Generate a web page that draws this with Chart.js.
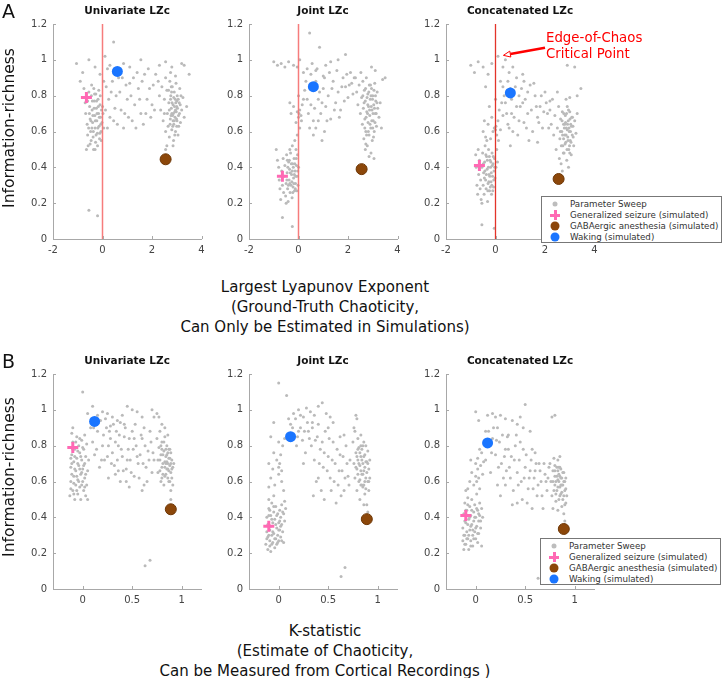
<!DOCTYPE html>
<html lang="en">
<head>
  <meta charset="UTF-8">
  <title>Information-richness vs chaoticity</title>
  <script src="https://cdn.jsdelivr.net/npm/chart.js"></script>
  <style>
    body { margin: 0; background: #fff; font-family: 'DejaVu Sans', sans-serif; }
    #fig { position: relative; width: 722px; height: 678px; overflow: hidden; }
    #fig canvas { position: absolute; }
    .txt { position: absolute; white-space: nowrap; color: #111; line-height: 1; }
    .letter { font-size: 19px; left: 2px; }
    .ptitle { font-size: 10.5px; font-weight: bold; transform: translateX(-50%); }
    .ylab { font-size: 15.5px; transform: translate(-50%, -50%) rotate(-90deg); }
    .xlab { font-size: 15px; line-height: 20px; text-align: center; transform: translateX(-50%); }
    .note { font-size: 13.3px; line-height: 16px; color: #ff0000; }
    .legend { position: absolute; width: 179px; height: 45px; border: 1px solid #777; background: #fff; }
    .legend .row { position: absolute; left: 0; height: 11px; font-size: 8.7px; line-height: 11px; color: #333; }
    .legend .row span.t { position: absolute; left: 28px; top: 0; white-space: nowrap; }
    .sym { position: absolute; left: 13px; top: 5.5px; transform: translate(-50%, -50%); }
    .dot { width: 5px; height: 5px; border-radius: 50%; background: #bdbdbd; }
    .ball { width: 9px; height: 9px; border-radius: 50%; }
    .plus { width: 10px; height: 10px; }
    .plus::before, .plus::after { content: ''; position: absolute; background: #ff69b4; }
    .plus::before { left: 3.5px; top: 0; width: 3px; height: 10px; }
    .plus::after { left: 0; top: 3.5px; width: 10px; height: 3px; }
  </style>
</head>
<body>
<div id="fig">
  <canvas id="a1" width="197" height="251" style="left:13px;top:12px"></canvas>
  <canvas id="a2" width="197" height="251" style="left:209px;top:12px"></canvas>
  <canvas id="a3" width="197" height="251" style="left:406px;top:12px"></canvas>
  <canvas id="b1" width="197" height="251" style="left:13px;top:362px"></canvas>
  <canvas id="b2" width="197" height="251" style="left:209px;top:362px"></canvas>
  <canvas id="b3" width="197" height="251" style="left:406px;top:362px"></canvas>

  <div class="txt letter" style="top:2px">A</div>
  <div class="txt letter" style="top:352px">B</div>

  <div class="txt ptitle" style="left:127px;top:5px">Univariate LZc</div>
  <div class="txt ptitle" style="left:323px;top:5px">Joint LZc</div>
  <div class="txt ptitle" style="left:520px;top:5px">Concatenated LZc</div>
  <div class="txt ptitle" style="left:127px;top:355px">Univariate LZc</div>
  <div class="txt ptitle" style="left:323px;top:355px">Joint LZc</div>
  <div class="txt ptitle" style="left:520px;top:355px">Concatenated LZc</div>

  <div class="txt ylab" style="left:10px;top:128px">Information-richness</div>
  <div class="txt ylab" style="left:10px;top:477px">Information-richness</div>

  <div class="txt xlab" style="left:325px;top:277px">Largest Lyapunov Exponent<br>(Ground-Truth Chaoticity,<br>Can Only be Estimated in Simulations)</div>
  <div class="txt xlab" style="left:325px;top:621px">K-statistic<br>(Estimate of Chaoticity,<br>Can be Measured from Cortical Recordings )</div>

  <div class="txt note" style="left:546px;top:30px">Edge-of-Chaos<br>Critical Point</div>

  <div class="legend" id="legA" style="left:541px;top:196px"></div>
  <div class="legend" id="legB" style="left:540px;top:538px"></div>
</div>

<script>
  // tick labels
  const yTicks = [0, 0.2, 0.4, 0.6, 0.8, 1, 1.2];
  const lyapTicks = [-2, 0, 2, 4];
  const kTicks = [0, 0.5, 1];

  // simulated states: seizure, anesthesia, waking
  const stateNames = ['Generalized seizure (simulated)', 'GABAergic anesthesia (simulated)', 'Waking (simulated)'];
  const stateLyap = [-0.65, 2.55, 0.6];
  const stateK = [-0.1, 0.89, 0.12];
  const stateUni = [0.79, 0.445, 0.935];
  const stateJoint = [0.35, 0.39, 0.85];
  const stateConcat = [0.41, 0.335, 0.815];

  // parameter sweep: [x, y]
  const uniLyap = [
    [-0.75,0.84],[-0.7,0.76],[-0.68,0.7],[-0.62,0.64],[-0.6,0.58],[-0.58,0.52],[-0.55,0.82],[-0.52,0.74],[-0.5,0.67],[-0.48,0.6],
    [-0.46,0.55],[-0.45,0.8],[-0.42,0.72],[-0.4,0.65],[-0.38,0.57],[-0.36,0.5],[-0.35,0.84],[-0.33,0.77],[-0.31,0.69],[-0.3,0.62],
    [-0.28,0.54],[-0.27,0.81],[-0.25,0.73],[-0.23,0.66],[-0.21,0.59],[-0.2,0.52],[-0.18,0.78],[-0.16,0.7],[-0.14,0.63],[-0.12,0.56],
    [-0.1,0.75],[-0.08,0.68],[-0.06,0.6],[-0.04,0.72],[-0.02,0.65],[0.02,0.7],[0.05,0.62],[-0.65,0.5],[-0.44,0.86],[-0.15,0.83],
    [-0.3,0.5],[-0.5,0.53],
    [-0.43,0.62],[-0.41,0.77],[-0.39,0.69],[-0.37,0.6],[-0.34,0.73],[-0.32,0.81],[-0.29,0.66],[-0.26,0.58],[-0.24,0.77],[-0.22,0.7],
    [-0.19,0.62],[-0.17,0.74],[-0.13,0.68],[-0.11,0.59],[-0.09,0.8],[-0.07,0.64],[-0.56,0.62],[-0.53,0.7],[-0.6,0.77],[-0.47,0.66],
    [-0.05,0.55],[0.0,0.74],
    [-1.05,0.98],[-0.8,0.93],[-0.55,1.0],[-0.3,0.96],[-0.1,0.92],[0.1,1.02],[0.45,1.1],[0.3,0.97],[0.85,0.98],[1.1,0.96],
    [1.55,1.0],[1.85,0.95],[2.3,0.97],[2.55,0.99],[2.8,0.96],[3.2,0.98],[3.5,0.92],[3.3,0.97],[-0.9,0.88],
    [0.15,0.85],[0.25,0.78],[0.3,0.68],[0.4,0.88],[0.5,0.73],[0.6,0.64],[0.7,0.82],[0.8,0.9],[0.9,0.7],[1.0,0.78],
    [1.1,0.87],[1.2,0.66],[1.3,0.75],[1.45,0.84],[1.55,0.7],[1.7,0.92],[1.8,0.78],[1.95,0.68],[2.05,0.86],[0.2,0.62],
    [0.55,0.8],[1.4,0.93],[2.0,0.75],
    [0.05,0.88],[0.12,0.72],[0.2,0.95],[0.35,0.82],[0.45,0.66],[0.65,0.9],[0.75,0.72],[0.95,0.86],[1.05,0.68],[1.15,0.8],
    [1.25,0.9],[1.35,0.62],[1.5,0.78],[1.6,0.88],[1.75,0.7],[1.9,0.84],[2.1,0.72],[2.15,0.92],[0.85,0.62],[1.65,0.64],
    [2.25,0.88],[2.3,0.8],[2.35,0.72],[2.4,0.85],[2.45,0.66],[2.5,0.78],[2.55,0.6],[2.55,0.9],[2.6,0.83],[2.62,0.7],
    [2.65,0.63],[2.68,0.76],[2.7,0.57],[2.72,0.88],[2.74,0.67],[2.76,0.8],[2.78,0.73],[2.8,0.61],[2.82,0.85],[2.83,0.69],
    [2.85,0.75],[2.87,0.55],[2.88,0.64],[2.9,0.82],[2.92,0.71],[2.94,0.78],[2.95,0.6],[2.97,0.87],[2.99,0.67],[3.0,0.74],
    [3.02,0.8],[3.05,0.58],[3.07,0.69],[3.1,0.76],[3.12,0.84],[3.15,0.65],[3.2,0.72],[3.25,0.79],[3.3,0.68],[2.6,0.52],
    [2.85,0.52],[3.0,0.63],[2.75,0.93],[2.95,0.91],[3.4,0.74],[2.5,0.7],
    [2.7,0.72],[2.73,0.64],[2.75,0.78],[2.77,0.69],[2.79,0.82],[2.81,0.76],[2.84,0.63],[2.86,0.7],[2.88,0.79],[2.9,0.66],
    [2.91,0.74],[2.93,0.68],[2.96,0.76],[2.98,0.71],[3.01,0.66],[3.03,0.73],[3.06,0.78],[3.08,0.63],[3.11,0.7],[3.14,0.75],
    [2.8,0.7],[2.95,0.72],[3.0,0.77],[2.85,0.66],[2.67,0.83],[2.92,0.58],[3.17,0.8],[2.78,0.85],
    [-0.55,0.16],[-0.2,0.13],[2.55,0.5]
  ];
  const jointLyap = [
    [-0.9,0.5],[-0.85,0.44],[-0.8,0.4],[-0.78,0.33],[-0.75,0.28],[-0.72,0.22],[-0.68,0.38],[-0.65,0.3],[-0.62,0.45],[-0.6,0.26],
    [-0.58,0.35],[-0.55,0.41],[-0.52,0.24],[-0.5,0.31],[-0.48,0.47],[-0.46,0.37],[-0.44,0.28],[-0.42,0.21],[-0.4,0.43],[-0.38,0.33],
    [-0.36,0.39],[-0.34,0.26],[-0.32,0.48],[-0.3,0.3],[-0.28,0.36],[-0.26,0.23],[-0.24,0.42],[-0.22,0.29],[-0.2,0.34],[-0.18,0.45],
    [-0.16,0.27],[-0.14,0.38],[-0.12,0.31],[-0.1,0.5],[-0.08,0.41],[-0.06,0.35],[-0.04,0.47],[-0.02,0.3],[0.0,0.4],[-0.5,0.2],
    [-0.35,0.5],[-0.25,0.52],
    [-0.47,0.33],[-0.43,0.4],[-0.41,0.3],[-0.37,0.44],[-0.35,0.31],[-0.33,0.37],[-0.29,0.42],[-0.27,0.32],[-0.25,0.38],[-0.23,0.26],
    [-0.21,0.4],[-0.19,0.31],[-0.17,0.36],[-0.15,0.42],[-0.13,0.28],[-0.11,0.35],[-0.09,0.45],[-0.07,0.27],[-0.03,0.38],[-0.45,0.44],
    [-0.15,0.55],[-0.05,0.58],[0.05,0.62],[-0.1,0.65],[0.0,0.68],[0.02,0.7],[0.05,0.72],[-0.05,0.71],[0.1,0.69],[0.15,0.75],
    [-0.2,0.74],[0.2,0.78],[-0.3,0.7],[0.0,0.8],[0.25,0.83],[-0.35,0.76],[0.12,0.66],
    [-1.0,0.99],[-0.85,0.97],[-0.7,0.98],[-0.55,0.96],[-0.4,0.99],[-0.2,0.97],[-0.05,0.96],[0.05,1.0],[0.2,0.93],[0.35,0.95],
    [0.45,1.15],[0.55,0.98],[0.85,1.07],[0.7,0.94],[1.1,0.97],[1.3,0.99],[1.6,1.0],[1.9,1.03],[1.0,0.91],[0.3,0.88],
    [0.4,0.7],[0.5,0.75],[0.6,0.66],[0.7,0.62],[0.8,0.78],[0.9,0.7],[1.0,0.84],[1.1,0.74],[1.2,0.8],[1.3,0.67],
    [1.4,0.88],[1.5,0.76],[1.6,0.82],[1.7,0.72],[1.8,0.9],[1.9,0.85],[2.0,0.79],[2.1,0.93],[2.15,0.87],[0.95,0.55],
    [0.7,0.88],[0.45,0.62],[2.2,0.81],[1.25,0.93],[0.8,0.66],
    [0.35,0.78],[0.55,0.86],[0.65,0.73],[0.75,0.95],[0.85,0.82],[0.95,0.76],[1.05,0.9],[1.15,0.66],[1.35,0.84],[1.45,0.72],
    [1.55,0.94],[1.65,0.68],[1.75,0.85],[1.85,0.77],[1.95,0.92],[2.05,0.86],[2.25,0.9],[0.6,0.58],[1.05,0.6],[0.5,0.92],
    [2.3,0.9],[2.35,0.82],[2.4,0.75],[2.45,0.86],[2.5,0.7],[2.52,0.93],[2.55,0.79],[2.58,0.64],[2.6,0.88],[2.62,0.73],
    [2.64,0.56],[2.66,0.83],[2.68,0.67],[2.7,0.77],[2.72,0.6],[2.74,0.9],[2.76,0.71],[2.78,0.52],[2.8,0.81],[2.81,0.65],
    [2.83,0.74],[2.85,0.58],[2.86,0.86],[2.88,0.69],[2.9,0.78],[2.92,0.62],[2.93,0.48],[2.95,0.84],[2.97,0.72],[2.98,0.55],
    [3.0,0.8],[3.02,0.66],[3.04,0.75],[3.06,0.6],[3.08,0.87],[3.1,0.7],[3.12,0.77],[3.15,0.63],[3.18,0.82],[3.2,0.73],
    [3.25,0.68],[3.3,0.76],[3.35,0.62],[3.05,0.45],[2.85,0.46],[3.1,0.94],[2.95,0.96],[3.4,0.89],[3.5,0.9],[2.7,0.5],
    [2.65,0.76],[2.68,0.62],[2.71,0.84],[2.73,0.68],[2.75,0.58],[2.77,0.79],[2.79,0.7],[2.82,0.6],[2.84,0.82],[2.87,0.72],
    [2.89,0.64],[2.91,0.86],[2.94,0.74],[2.96,0.66],[2.99,0.78],[3.01,0.7],[3.03,0.57],[3.05,0.83],[3.07,0.73],[3.09,0.65],
    [3.11,0.8],[3.14,0.7],[3.17,0.76],[2.8,0.75],[2.93,0.8],[2.6,0.8],[2.72,0.53],[3.0,0.62],
    [-0.65,0.12],[-0.25,0.07]
  ];
  const concatLyap = [
    [-0.8,0.47],[-0.78,0.4],[-0.75,0.3],[-0.72,0.25],[-0.7,0.5],[-0.68,0.36],[-0.65,0.44],[-0.62,0.28],[-0.6,0.33],[-0.58,0.22],
    [-0.55,0.4],[-0.52,0.48],[-0.5,0.3],[-0.48,0.37],[-0.46,0.25],[-0.44,0.43],[-0.42,0.52],[-0.4,0.33],[-0.38,0.28],[-0.36,0.46],
    [-0.34,0.39],[-0.32,0.21],[-0.3,0.31],[-0.28,0.5],[-0.26,0.36],[-0.24,0.27],[-0.22,0.44],[-0.2,0.4],[-0.18,0.32],[-0.16,0.25],
    [-0.14,0.48],[-0.12,0.35],[-0.1,0.42],[-0.08,0.29],[-0.06,0.38],[-0.04,0.45],[-0.02,0.34],[0.02,0.4],[0.05,0.5],[0.08,0.43],
    [-0.35,0.55],[-0.55,0.2],
    [-0.49,0.42],[-0.45,0.34],[-0.43,0.38],[-0.39,0.47],[-0.37,0.36],[-0.33,0.44],[-0.31,0.27],[-0.29,0.4],[-0.27,0.32],[-0.25,0.46],
    [-0.23,0.35],[-0.21,0.29],[-0.19,0.43],[-0.17,0.37],[-0.15,0.3],[-0.13,0.41],[-0.11,0.27],[-0.09,0.46],[-0.07,0.33],[-0.03,0.4],
    [-0.5,0.6],[-0.4,0.57],[-0.3,0.64],[-0.2,0.56],[-0.15,0.68],[-0.1,0.6],[-0.05,0.62],[0.0,0.61],[0.02,0.63],[0.05,0.58],
    [0.1,0.66],[0.12,0.55],[0.15,0.72],[0.2,0.61],[0.25,0.76],[-0.25,0.74],[0.3,0.69],[0.0,0.78],[-0.45,0.66],
    [-1.0,0.97],[-0.85,0.93],[-0.7,0.99],[-0.5,0.96],[-0.3,0.92],[-0.15,0.98],[0.1,1.02],[0.3,0.96],[0.4,1.0],[0.55,0.93],
    [0.7,0.96],[0.85,0.9],[0.2,0.88],[-0.4,0.85],[1.1,0.92],[2.9,0.97],[3.2,0.96],
    [0.35,0.8],[0.45,0.7],[0.55,0.62],[0.65,0.78],[0.75,0.68],[0.8,0.85],[0.9,0.58],[1.0,0.74],[1.05,0.84],[1.15,0.65],
    [1.2,0.78],[1.3,0.7],[1.4,0.86],[1.5,0.6],[1.55,0.87],[1.65,0.74],[1.75,0.65],[1.85,0.8],[1.95,0.71],[2.05,0.76],
    [2.15,0.62],[0.6,0.52],[1.35,0.55],[0.95,0.8],[1.7,0.54],[0.5,0.88],
    [0.4,0.76],[0.5,0.64],[0.6,0.84],[0.7,0.6],[0.85,0.74],[0.95,0.66],[1.1,0.76],[1.25,0.62],[1.3,0.82],[1.45,0.72],
    [1.6,0.8],[1.7,0.68],[1.8,0.74],[1.9,0.62],[2.0,0.82],[2.1,0.7],[0.3,0.85],[0.65,0.7],[1.15,0.88],[2.2,0.77],
    [2.2,0.72],[2.25,0.64],[2.3,0.78],[2.35,0.58],[2.4,0.69],[2.45,0.5],[2.5,0.62],[2.55,0.74],[2.58,0.45],[2.6,0.56],
    [2.63,0.67],[2.65,0.42],[2.68,0.6],[2.7,0.71],[2.72,0.52],[2.75,0.64],[2.77,0.48],[2.8,0.58],[2.82,0.69],[2.84,0.54],
    [2.86,0.62],[2.88,0.44],[2.9,0.74],[2.92,0.57],[2.94,0.66],[2.96,0.5],[2.98,0.6],[3.0,0.71],[3.02,0.55],[3.04,0.64],
    [3.06,0.47],[3.08,0.68],[3.1,0.58],[3.13,0.63],[3.16,0.52],[3.2,0.66],[3.25,0.59],[3.3,0.7],[2.85,0.78],[3.0,0.79],
    [3.45,0.84],[3.3,0.8],[2.7,0.38],[2.95,0.4],[2.5,0.82],
    [2.62,0.6],[2.66,0.52],[2.69,0.66],[2.71,0.58],[2.74,0.48],[2.76,0.7],[2.78,0.62],[2.81,0.53],[2.83,0.65],[2.85,0.58],
    [2.87,0.7],[2.89,0.5],[2.91,0.64],[2.93,0.55],[2.95,0.72],[2.97,0.62],[2.99,0.52],[3.01,0.67],[3.03,0.6],[3.05,0.54],
    [3.07,0.63],[3.11,0.68],[3.14,0.57],[2.8,0.64],[2.9,0.61],[2.75,0.56],[3.0,0.48],
    [-0.55,0.08],[-0.05,0.06]
  ];
  const uniK = [
    [-0.13,0.52],[-0.12,0.6],[-0.12,0.68],[-0.11,0.75],[-0.1,0.55],[-0.1,0.82],[-0.09,0.63],[-0.09,0.71],[-0.08,0.5],[-0.08,0.78],
    [-0.07,0.58],[-0.07,0.66],[-0.06,0.85],[-0.06,0.73],[-0.05,0.53],[-0.05,0.61],[-0.04,0.69],[-0.04,0.8],[-0.03,0.57],[-0.03,0.76],
    [-0.02,0.64],[-0.02,0.5],[-0.01,0.72],[-0.01,0.83],[0.0,0.6],[0.0,0.67],[0.01,0.55],[0.01,0.78],[0.02,0.7],[0.02,0.62],
    [0.03,0.52],[0.03,0.74],[0.04,0.58],[0.04,0.81],[0.05,0.66],[0.05,0.5],[-0.11,0.87],[0.06,0.72],[-0.1,0.9],[0.02,0.86],
    [-0.12,0.56],[-0.11,0.64],[-0.11,0.7],[-0.1,0.78],[-0.09,0.59],[-0.08,0.67],[-0.08,0.74],[-0.07,0.82],[-0.06,0.55],[-0.06,0.63],
    [-0.05,0.7],[-0.05,0.77],[-0.04,0.6],[-0.03,0.67],[-0.03,0.84],[-0.02,0.74],[-0.01,0.58],[-0.01,0.65],[0.0,0.79],[0.01,0.69],
    [0.02,0.57],[0.03,0.64],[-0.12,0.73],[-0.09,0.53],
    [0.0,1.1],[0.05,0.98],[0.1,1.02],[0.15,0.97],[0.2,0.99],[0.25,0.98],[0.3,0.96],[0.35,0.94],[0.4,0.97],[0.45,1.02],
    [0.5,1.0],[0.55,0.99],[0.6,0.96],[0.7,1.0],[0.72,0.96],[0.75,0.98],[0.08,0.9],[0.28,0.91],[0.42,0.92],[0.62,0.9],
    [0.1,0.82],[0.12,0.75],[0.15,0.88],[0.17,0.68],[0.2,0.8],[0.22,0.72],[0.24,0.9],[0.26,0.62],[0.28,0.84],[0.3,0.76],
    [0.32,0.69],[0.34,0.88],[0.36,0.8],[0.38,0.6],[0.4,0.74],[0.42,0.85],[0.44,0.67],[0.46,0.78],[0.48,0.72],[0.5,0.88],
    [0.52,0.63],[0.54,0.8],[0.56,0.7],[0.58,0.75],[0.6,0.84],[0.62,0.58],[0.64,0.68],[0.66,0.77],[0.68,0.88],[0.7,0.65],
    [0.72,0.72],[0.38,0.93],[0.47,0.57],[0.18,0.94],[0.6,0.55],[0.33,0.64],
    [0.11,0.9],[0.14,0.78],[0.16,0.93],[0.19,0.72],[0.21,0.86],[0.23,0.95],[0.25,0.74],[0.27,0.88],[0.29,0.7],[0.31,0.92],
    [0.33,0.82],[0.35,0.72],[0.37,0.86],[0.39,0.78],[0.41,0.66],[0.43,0.9],[0.45,0.72],[0.47,0.84],[0.49,0.65],[0.51,0.78],
    [0.53,0.92],[0.55,0.74],[0.57,0.62],[0.59,0.86],[0.61,0.7],[0.63,0.8],[0.65,0.6],[0.67,0.72],[0.69,0.82],[0.71,0.76],
    [0.44,0.6],[0.36,0.66],[0.26,0.8],[0.52,0.84],
    [0.75,0.84],[0.76,0.72],[0.77,0.79],[0.78,0.66],[0.78,0.88],[0.79,0.75],[0.8,0.62],[0.8,0.82],[0.81,0.7],[0.82,0.77],
    [0.82,0.58],[0.83,0.85],[0.83,0.68],[0.84,0.74],[0.84,0.64],[0.85,0.8],[0.85,0.71],[0.86,0.67],[0.86,0.76],[0.87,0.6],
    [0.87,0.73],[0.88,0.69],[0.88,0.78],[0.89,0.65],[0.89,0.55],[0.9,0.72],[0.9,0.62],[0.91,0.68],[0.91,0.58],[0.92,0.7],
    [0.89,0.5],[0.8,0.92],[0.77,0.96],[0.83,0.9],[0.86,0.86],[0.76,0.65],[0.79,0.6],
    [0.78,0.72],[0.79,0.8],[0.8,0.68],[0.81,0.75],[0.81,0.64],[0.82,0.82],[0.83,0.71],[0.83,0.63],[0.84,0.78],[0.85,0.67],
    [0.85,0.75],[0.86,0.62],[0.86,0.7],[0.87,0.78],[0.87,0.66],[0.88,0.73],[0.88,0.6],[0.89,0.7],[0.89,0.76],[0.9,0.67],
    [0.84,0.7],[0.8,0.78],
    [0.63,0.13],[0.68,0.16]
  ];
  const jointK = [
    [-0.13,0.25],[-0.12,0.32],[-0.12,0.4],[-0.11,0.22],[-0.11,0.29],[-0.1,0.36],[-0.1,0.45],[-0.09,0.27],[-0.09,0.33],[-0.08,0.21],
    [-0.08,0.41],[-0.07,0.3],[-0.07,0.48],[-0.06,0.26],[-0.06,0.37],[-0.05,0.43],[-0.05,0.31],[-0.04,0.23],[-0.04,0.39],[-0.03,0.28],
    [-0.03,0.46],[-0.02,0.34],[-0.02,0.25],[-0.01,0.42],[-0.01,0.3],[0.0,0.37],[0.0,0.27],[0.01,0.44],[0.01,0.33],[0.02,0.4],
    [0.02,0.29],[0.03,0.36],[0.03,0.47],[0.04,0.32],[0.05,0.42],[0.05,0.26],[0.06,0.38],[0.07,0.45],[-0.1,0.5],[-0.05,0.52],
    [0.06,0.49],
    [-0.12,0.28],[-0.11,0.36],[-0.1,0.3],[-0.1,0.41],[-0.09,0.24],[-0.08,0.35],[-0.07,0.39],[-0.07,0.25],[-0.06,0.32],[-0.05,0.46],
    [-0.04,0.28],[-0.03,0.36],[-0.02,0.41],[-0.01,0.26],[0.0,0.33],[0.01,0.38],[0.02,0.35],[0.03,0.27],[0.04,0.43],[-0.09,0.44],
    [-0.1,0.57],[-0.08,0.62],[-0.1,0.7],[-0.06,0.67],[-0.04,0.58],[-0.02,0.72],[0.0,0.68],[0.0,0.64],[0.01,0.7],[0.02,0.75],
    [0.03,0.66],[-0.05,0.76],[0.04,0.8],[0.06,0.84],[-0.08,0.85],[0.0,0.82],[0.05,0.55],[0.03,0.6],
    [0.0,1.15],[0.08,1.08],[0.1,0.95],[0.15,0.98],[0.2,1.0],[0.25,0.96],[0.28,1.01],[0.32,0.99],[0.36,0.97],[0.4,1.02],
    [0.44,1.04],[0.48,0.98],[0.52,0.96],[0.55,0.93],[0.12,0.92],[0.22,0.9],[0.34,0.93],[-0.05,0.93],[0.78,0.97],[0.79,0.95],
    [0.15,0.86],[0.18,0.8],[0.2,0.88],[0.24,0.83],[0.27,0.76],[0.3,0.88],[0.33,0.8],[0.36,0.72],[0.39,0.85],[0.42,0.78],
    [0.45,0.68],[0.47,0.88],[0.5,0.74],[0.52,0.62],[0.55,0.82],[0.57,0.7],[0.6,0.58],[0.62,0.75],[0.64,0.66],[0.66,0.55],
    [0.68,0.8],[0.7,0.63],[0.72,0.72],[0.38,0.6],[0.35,0.52],[0.43,0.55],[0.58,0.48],[0.66,0.86],[0.5,0.9],[0.25,0.7],
    [0.14,0.9],[0.17,0.95],[0.19,0.85],[0.22,0.97],[0.26,0.88],[0.29,0.93],[0.31,0.84],[0.34,0.9],[0.37,0.83],[0.4,0.92],
    [0.41,0.7],[0.44,0.82],[0.46,0.76],[0.49,0.66],[0.51,0.84],[0.54,0.72],[0.56,0.6],[0.59,0.78],[0.61,0.66],[0.63,0.52],
    [0.65,0.74],[0.67,0.62],[0.69,0.7],[0.71,0.58],[0.4,0.62],[0.46,0.5],[0.53,0.55],[0.62,0.85],
    [0.75,0.82],[0.76,0.7],[0.77,0.62],[0.77,0.88],[0.78,0.76],[0.79,0.67],[0.79,0.55],[0.8,0.84],[0.8,0.72],[0.81,0.79],
    [0.81,0.6],[0.82,0.69],[0.82,0.5],[0.83,0.86],[0.83,0.74],[0.84,0.64],[0.84,0.78],[0.85,0.57],[0.85,0.7],[0.86,0.82],
    [0.86,0.66],[0.87,0.75],[0.87,0.53],[0.88,0.62],[0.88,0.8],[0.89,0.71],[0.89,0.47],[0.9,0.6],[0.9,0.77],[0.91,0.67],
    [0.91,0.55],[0.92,0.72],[0.92,0.62],[0.9,0.43],[0.76,0.9],[0.83,0.58],[0.86,0.47],
    [0.78,0.68],[0.79,0.74],[0.8,0.64],[0.8,0.78],[0.81,0.7],[0.82,0.61],[0.82,0.76],[0.83,0.66],[0.84,0.72],[0.84,0.58],
    [0.85,0.8],[0.85,0.64],[0.86,0.74],[0.87,0.68],[0.87,0.6],[0.88,0.71],[0.88,0.56],[0.89,0.65],[0.9,0.7],[0.91,0.6],
    [0.83,0.8],[0.86,0.58],
    [0.63,0.07],[0.67,0.12]
  ];
  const concatK = [
    [-0.13,0.27],[-0.13,0.34],[-0.12,0.42],[-0.12,0.22],[-0.11,0.3],[-0.11,0.48],[-0.1,0.37],[-0.1,0.25],[-0.09,0.44],[-0.09,0.32],
    [-0.08,0.28],[-0.08,0.51],[-0.07,0.39],[-0.07,0.22],[-0.06,0.46],[-0.06,0.33],[-0.05,0.27],[-0.05,0.41],[-0.04,0.36],[-0.04,0.5],
    [-0.03,0.3],[-0.03,0.24],[-0.02,0.43],[-0.02,0.38],[-0.01,0.32],[-0.01,0.47],[0.0,0.28],[0.0,0.4],[0.01,0.35],[0.01,0.53],
    [0.02,0.26],[0.02,0.44],[0.03,0.38],[0.03,0.31],[0.04,0.48],[0.04,0.41],[0.05,0.34],[0.06,0.45],[0.06,0.24],[0.07,0.4],
    [-0.12,0.3],[-0.11,0.38],[-0.11,0.25],[-0.1,0.44],[-0.09,0.28],[-0.08,0.36],[-0.08,0.47],[-0.07,0.3],[-0.06,0.4],[-0.05,0.24],
    [-0.05,0.35],[-0.04,0.44],[-0.03,0.33],[-0.02,0.28],[-0.01,0.4],[0.0,0.34],[0.01,0.45],[0.02,0.31],[0.03,0.42],[0.05,0.38],
    [-0.08,0.56],[-0.06,0.6],[-0.04,0.65],[-0.02,0.58],[0.0,0.63],[0.0,0.7],[0.01,0.6],[0.02,0.67],[0.02,0.73],[0.03,0.62],
    [0.04,0.56],[0.05,0.69],[0.06,0.76],[-0.05,0.72],[0.07,0.64],[-0.1,0.55],[0.08,0.71],[0.04,0.78],
    [0.0,0.99],[0.03,0.94],[0.12,0.97],[0.17,0.98],[0.2,0.96],[0.25,0.97],[0.3,0.95],[0.37,0.94],[0.42,0.92],[0.45,0.96],
    [0.5,1.03],[0.48,0.9],[0.55,0.88],[0.1,0.88],[0.22,0.9],[0.33,0.86],[0.77,0.96],[0.8,0.97],
    [0.1,0.72],[0.12,0.8],[0.15,0.65],[0.17,0.84],[0.2,0.75],[0.22,0.58],[0.24,0.82],[0.26,0.7],[0.28,0.62],[0.3,0.78],
    [0.32,0.85],[0.34,0.68],[0.36,0.74],[0.38,0.55],[0.4,0.8],[0.42,0.65],[0.44,0.72],[0.46,0.6],[0.48,0.78],[0.5,0.68],
    [0.52,0.48],[0.54,0.62],[0.56,0.72],[0.58,0.56],[0.6,0.66],[0.62,0.52],[0.64,0.7],[0.66,0.6],[0.68,0.45],[0.7,0.64],
    [0.72,0.55],[0.74,0.68],[0.37,0.47],[0.47,0.5],[0.6,0.76],[0.25,0.52],
    [0.13,0.88],[0.16,0.76],[0.18,0.9],[0.21,0.83],[0.23,0.68],[0.27,0.86],[0.29,0.74],[0.31,0.66],[0.33,0.78],[0.35,0.62],
    [0.39,0.72],[0.41,0.86],[0.43,0.58],[0.45,0.82],[0.49,0.62],[0.51,0.75],[0.53,0.56],[0.55,0.66],[0.57,0.78],[0.59,0.62],
    [0.61,0.7],[0.63,0.58],[0.65,0.66],[0.67,0.52],[0.69,0.7],[0.71,0.6],[0.73,0.62],[0.42,0.48],[0.57,0.45],[0.3,0.58],
    [0.75,0.7],[0.76,0.6],[0.77,0.52],[0.78,0.66],[0.78,0.45],[0.79,0.73],[0.8,0.58],[0.8,0.63],[0.81,0.49],[0.82,0.68],
    [0.82,0.55],[0.83,0.61],[0.83,0.72],[0.84,0.5],[0.84,0.64],[0.85,0.57],[0.85,0.68],[0.86,0.53],[0.86,0.62],[0.87,0.46],
    [0.87,0.58],[0.88,0.65],[0.88,0.5],[0.89,0.6],[0.89,0.42],[0.9,0.55],[0.9,0.38],[0.91,0.48],[0.91,0.62],[0.92,0.52],
    [0.8,0.69],[0.85,0.74],[0.83,0.44],
    [0.78,0.6],[0.79,0.55],[0.8,0.66],[0.81,0.6],[0.81,0.53],[0.82,0.63],[0.83,0.57],[0.83,0.66],[0.84,0.6],[0.85,0.52],
    [0.85,0.63],[0.86,0.58],[0.86,0.67],[0.87,0.54],[0.87,0.62],[0.88,0.58],[0.89,0.65],[0.89,0.52],[0.9,0.6],[0.9,0.47],
    [0.91,0.56],[0.84,0.68],
    [0.63,0.06]
  ];

  const sweepName = 'Parameter Sweep';
  const axisColor = '#a8a8a8';
  const tickFont = { family: 'DejaVu Sans', size: 10 };

  // MATLAB-style inward tick marks
  const inTicks = {
    id: 'inTicks',
    afterDraw(chart) {
      const { ctx, chartArea: a, scales: { x, y } } = chart;
      ctx.save();
      ctx.strokeStyle = axisColor;
      ctx.lineWidth = 1;
      x.ticks.forEach(t => {
        const px = Math.round(x.getPixelForValue(t.value)) + 0.5;
        ctx.beginPath(); ctx.moveTo(px, a.bottom); ctx.lineTo(px, a.bottom - 3); ctx.stroke();
      });
      y.ticks.forEach(t => {
        const py = Math.round(y.getPixelForValue(t.value)) + 0.5;
        ctx.beginPath(); ctx.moveTo(a.left, py); ctx.lineTo(a.left + 3, py); ctx.stroke();
      });
      ctx.restore();
    }
  };

  // arrow pointing at the critical point (data units)
  const arrowTail = [2.0, 1.068];
  const arrowHead = [0.32, 1.025];
  const edgeArrow = {
    id: 'edgeArrow',
    afterDatasetsDraw(chart) {
      const { ctx, scales: { x, y } } = chart;
      const x0 = x.getPixelForValue(arrowTail[0]), y0 = y.getPixelForValue(arrowTail[1]);
      const x1 = x.getPixelForValue(arrowHead[0]), y1 = y.getPixelForValue(arrowHead[1]);
      const ang = Math.atan2(y1 - y0, x1 - x0);
      const len = 7, w = 3;
      const bx = x1 - len * Math.cos(ang), by = y1 - len * Math.sin(ang);
      ctx.save();
      ctx.strokeStyle = '#ff0000';
      ctx.lineWidth = 2.5;
      ctx.beginPath(); ctx.moveTo(x0, y0); ctx.lineTo(bx, by); ctx.stroke();
      ctx.lineWidth = 1;
      ctx.fillStyle = '#ffffff';
      ctx.beginPath();
      ctx.moveTo(x1, y1);
      ctx.lineTo(bx + w * Math.sin(ang), by - w * Math.cos(ang));
      ctx.lineTo(bx - w * Math.sin(ang), by + w * Math.cos(ang));
      ctx.closePath();
      ctx.fill(); ctx.stroke();
      ctx.restore();
    }
  };

  function makePanel(id, pts, sx, sy, xMin, xMax, xTicks, lineStyle, plugins) {
    const datasets = [
      { label: stateNames[2], data: [{ x: sx[2], y: sy[2] }], pointStyle: 'circle', pointRadius: 5.5, backgroundColor: '#1a75ff', borderWidth: 0 },
      { label: stateNames[1], data: [{ x: sx[1], y: sy[1] }], pointStyle: 'circle', pointRadius: 5.5, backgroundColor: '#8c470a', borderColor: '#6e3706', borderWidth: 1 },
      { label: stateNames[0], data: [{ x: sx[0], y: sy[0] }], pointStyle: 'cross', pointRadius: 5.5, borderColor: '#ff69b4', borderWidth: 3 }
    ];
    if (lineStyle) {
      datasets.push({
        type: 'line', label: 'edge', data: [{ x: 0, y: yTicks[0] }, { x: 0, y: yTicks[yTicks.length - 1] }],
        borderColor: lineStyle.color, borderWidth: lineStyle.width, pointRadius: 0, showLine: true
      });
    }
    datasets.push({
      label: sweepName, data: pts.map(p => ({ x: p[0], y: p[1] })),
      pointRadius: 1.5, backgroundColor: '#bababa', borderWidth: 0
    });

    new Chart(document.getElementById(id), {
      type: 'scatter',
      data: { datasets },
      options: {
        responsive: false,
        animation: false,
        layout: { padding: { top: 8, right: 8, left: 0, bottom: 0 } },
        plugins: { legend: { display: false }, tooltip: { enabled: false } },
        scales: {
          x: {
            type: 'linear', min: xMin, max: xMax,
            afterBuildTicks: s => { s.ticks = xTicks.map(v => ({ value: v })); },
            afterFit: s => { s.height = 24; },
            grid: { display: false, drawTicks: false },
            border: { color: axisColor, width: 1 },
            ticks: { padding: 5, font: tickFont, color: '#444', maxRotation: 0, autoSkip: false, callback: v => String(v) }
          },
          y: {
            type: 'linear', min: 0, max: 1.2,
            afterBuildTicks: s => { s.ticks = yTicks.map(v => ({ value: v })); },
            afterFit: s => { s.width = 40; },
            grid: { display: false, drawTicks: false },
            border: { color: axisColor, width: 1 },
            ticks: { padding: 6, font: tickFont, color: '#444', autoSkip: false, callback: v => String(v) }
          }
        }
      },
      plugins: [inTicks].concat(plugins || [])
    });
  }

  const softRed = { color: 'rgba(245,110,110,0.9)', width: 1.5 };
  const darkRed = { color: '#e3342a', width: 1.3 };

  makePanel('a1', uniLyap, stateLyap, stateUni, -2, 4, lyapTicks, softRed);
  makePanel('a2', jointLyap, stateLyap, stateJoint, -2, 4, lyapTicks, softRed);
  makePanel('a3', concatLyap, stateLyap, stateConcat, -2, 4, lyapTicks, darkRed, [edgeArrow]);
  makePanel('b1', uniK, stateK, stateUni, -0.3, 1.2, kTicks, null);
  makePanel('b2', jointK, stateK, stateJoint, -0.3, 1.2, kTicks, null);
  makePanel('b3', concatK, stateK, stateConcat, -0.3, 1.2, kTicks, null);

  // legends
  const legendItems = [
    { name: sweepName, cls: 'dot', bg: null },
    { name: stateNames[0], cls: 'plus', bg: null },
    { name: stateNames[1], cls: 'ball', bg: '#8c470a' },
    { name: stateNames[2], cls: 'ball', bg: '#1a75ff' }
  ];
  ['legA', 'legB'].forEach(id => {
    const box = document.getElementById(id);
    legendItems.forEach((it, i) => {
      const row = document.createElement('div');
      row.className = 'row';
      row.style.top = (1.5 + 11 * i) + 'px';
      row.style.width = '179px';
      const s = document.createElement('div');
      s.className = 'sym ' + it.cls;
      if (it.bg) s.style.background = it.bg;
      const t = document.createElement('span');
      t.className = 't';
      t.textContent = it.name;
      row.appendChild(s);
      row.appendChild(t);
      box.appendChild(row);
    });
  });
</script>
</body>
</html>
